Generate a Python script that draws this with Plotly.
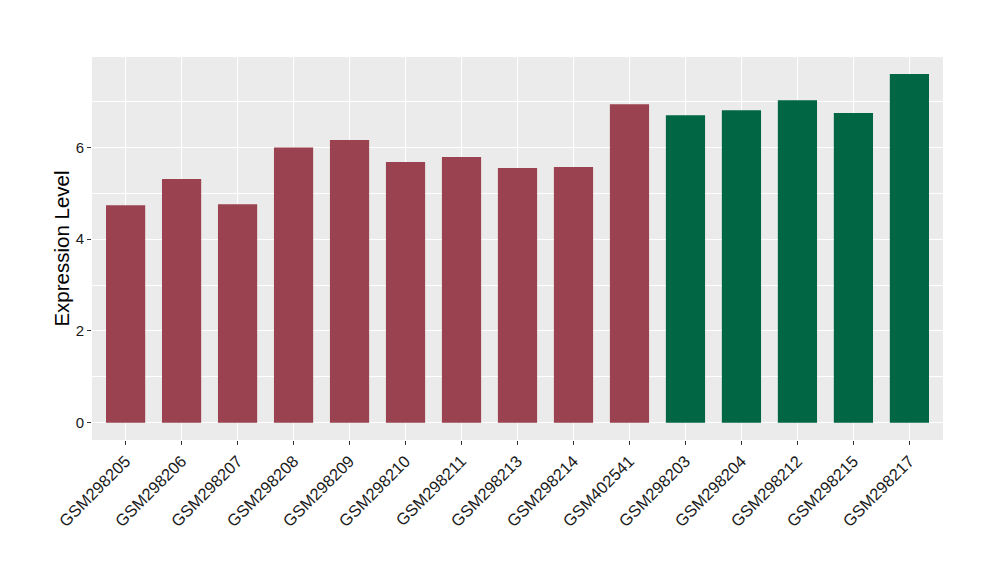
import plotly.graph_objects as go

samples = ["GSM298205", "GSM298206", "GSM298207", "GSM298208", "GSM298209",
           "GSM298210", "GSM298211", "GSM298213", "GSM298214", "GSM402541",
           "GSM298203", "GSM298204", "GSM298212", "GSM298215", "GSM298217"]
values = [4.74, 5.31, 4.76, 6.00, 6.16, 5.68, 5.79, 5.55, 5.57, 6.94,
          6.70, 6.81, 7.03, 6.75, 7.60]
groups = ["a"] * 10 + ["b"] * 5
group_colors = {"a": "#9A4250", "b": "#006644"}

fig = go.Figure()
fig.add_trace(go.Bar(
    x=samples, y=values,
    marker=dict(color=[group_colors[g] for g in groups], line=dict(width=0)),
    width=0.7, showlegend=False,
))

fig.update_layout(
    width=1000, height=580,
    margin=dict(l=84, r=65, t=49, b=148, autoexpand=False),
    paper_bgcolor="white", plot_bgcolor="#EBEBEB",
    font=dict(family="Liberation Sans, Arial, sans-serif", color="#1a1a1a"),
    bargap=0.3,
)
fig.update_xaxes(
    range=[-0.6, 14.6], showgrid=True, gridcolor="white", gridwidth=1.3,
    tickangle=-45, tickfont=dict(size=16.5, color="#1a1a1a"),
    ticks="outside", ticklen=4, tickcolor="#333333", tickwidth=1,
    zeroline=False, showline=False,
)
fig.update_yaxes(
    range=[-0.377, 7.97], tickvals=[0, 2, 4, 6], ticktext=["0", "2", "4", "6"],
    showgrid=True, gridcolor="white", gridwidth=1.3,
    minor=dict(tickvals=[1, 3, 5, 7], showgrid=True, gridcolor="white", gridwidth=0.6, ticks=""),
    tickfont=dict(size=15, color="#1a1a1a"),
    ticks="outside", ticklen=4, tickcolor="#333333", tickwidth=1,
    zeroline=False, showline=False,
    title=dict(text="Expression Level", font=dict(size=20.5, color="black"), standoff=0),
)

fig.write_html("out.html")
